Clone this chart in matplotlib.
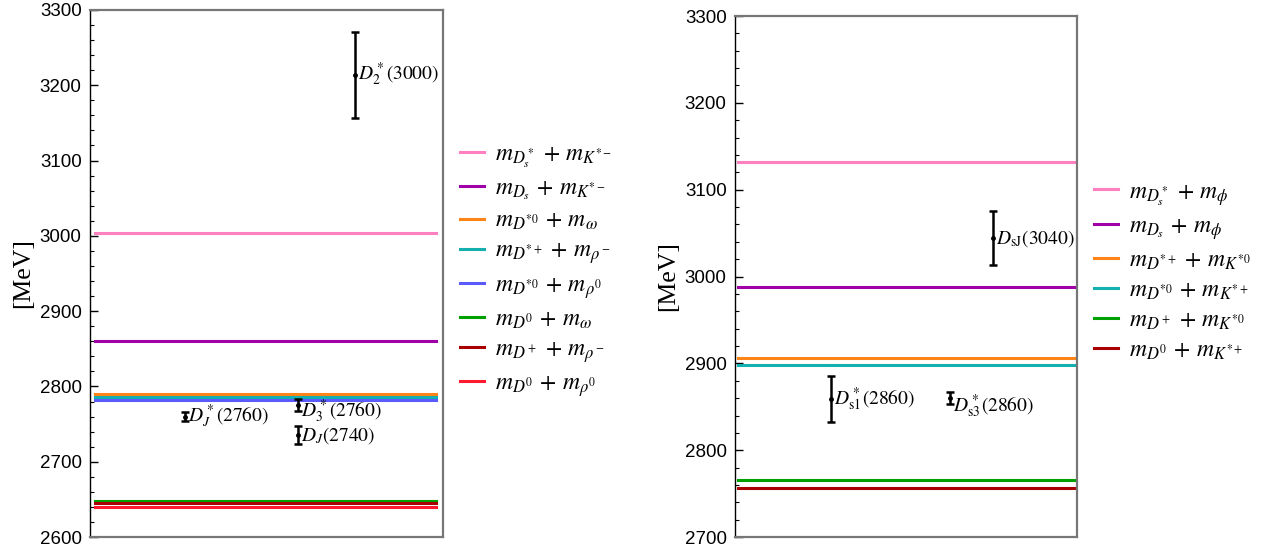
import matplotlib.pyplot as plt
from matplotlib.ticker import MultipleLocator

plt.rcParams['mathtext.fontset'] = 'stix'
plt.rcParams['font.family'] = ['Liberation Sans', 'DejaVu Sans']

# thresholds, D sector (MeV)
d_labels = [r'$m_{D_s^*}\,+\,m_{K^{*-}}$', r'$m_{D_s}\,+\,m_{K^{*-}}$',
            r'$m_{D^{*0}}\,+\,m_{\omega}$', r'$m_{D^{*+}}\,+\,m_{\rho^-}$',
            r'$m_{D^{*0}}\,+\,m_{\rho^0}$', r'$m_{D^0}\,+\,m_{\omega}$',
            r'$m_{D^+}\,+\,m_{\rho^-}$', r'$m_{D^0}\,+\,m_{\rho^0}$']
d_thresh = [3003.9, 2860.0, 2789.5, 2785.5, 2782.1, 2647.5, 2644.9, 2640.1]
d_colors = ['#ff80c0', '#a000a8', '#ff8418', '#14b0b0', '#5a5aff', '#00a000', '#a80000', '#ff1a30']

# observed D states
d_states = [r'$D_J^*(2760)$', r'$D_3^*(2760)$', r'$D_J(2740)$', r'$D_2^*(3000)$']
d_mass = [2760.1, 2775.5, 2735.0, 3214.0]
d_err = [6.0, 8.0, 12.0, 57.0]
d_xpos = [0.27, 0.59, 0.59, 0.75]

# thresholds, Ds sector (MeV)
ds_labels = [r'$m_{D_s^*}\,+\,m_{\phi}$', r'$m_{D_s}\,+\,m_{\phi}$',
             r'$m_{D^{*+}}\,+\,m_{K^{*0}}$', r'$m_{D^{*0}}\,+\,m_{K^{*+}}$',
             r'$m_{D^+}\,+\,m_{K^{*0}}$', r'$m_{D^0}\,+\,m_{K^{*+}}$']
ds_thresh = [3131.7, 2987.8, 2905.8, 2898.5, 2765.2, 2756.5]
ds_colors = ['#ff80c0', '#a000a8', '#ff8418', '#14b0b0', '#00a000', '#a80000']

# observed Ds states
ds_states = [r'$D_{\rm s1}^*(2860)$', r'$D_{\rm s3}^*(2860)$', r'$D_{\rm sJ}(3040)$']
ds_mass = [2859.0, 2860.5, 3044.0]
ds_err_lo = [27.0, 7.0, 31.0]
ds_err_hi = [27.0, 7.0, 31.0]
ds_xpos = [0.28, 0.63, 0.755]

fig = plt.figure(figsize=(12.66, 5.52), dpi=100)
ax1 = fig.add_axes([0.0711, 0.027, 0.2789, 0.955])
ax2 = fig.add_axes([0.5806, 0.027, 0.2701, 0.944])


def style(ax, lo, hi):
    ax.set_xlim(0, 1)
    ax.set_ylim(lo, hi)
    ax.set_xticks([])
    ax.yaxis.set_major_locator(MultipleLocator(100))
    ax.yaxis.set_minor_locator(MultipleLocator(20))
    ax.tick_params(axis='y', which='major', direction='in', length=6, width=1,
                   labelsize=13.5, pad=6)
    ax.tick_params(axis='y', which='minor', direction='in', length=3, width=0.8)
    for s in ['top', 'right', 'bottom']:
        ax.spines[s].set_color('#777777')
        ax.spines[s].set_linewidth(1.6)
    ax.spines['left'].set_color('black')
    ax.spines['left'].set_linewidth(1)
    ax.set_ylabel('[MeV]', family='Liberation Serif', fontsize=18.5, labelpad=4)


def legend(ax, x, y):
    ax.legend(loc='center left', bbox_to_anchor=(x, y), frameon=False,
              fontsize=17, handlelength=1.05, handletextpad=0.45,
              labelspacing=0.33, borderaxespad=0.3)


for y, c, lab in zip(d_thresh, d_colors, d_labels):
    ax1.axhline(y, xmin=0.015, xmax=0.98, color=c, lw=2.2, label=lab)
ax1.errorbar(d_xpos, d_mass, yerr=d_err, fmt='o', ms=2.5, color='black',
             lw=1.8, capsize=3, capthick=1.8)
d_dy = [0, -4.5, 0, 0]
for x, y, dy, name in zip(d_xpos, d_mass, d_dy, d_states):
    ax1.annotate(name, (x, y), xytext=(2, dy), textcoords='offset points',
                 va='center', ha='left', fontsize=14)
style(ax1, 2600, 3300)
legend(ax1, 1.0, 0.505)

for y, c, lab in zip(ds_thresh, ds_colors, ds_labels):
    ax2.axhline(y, xmin=0.01, xmax=0.995, color=c, lw=2.2, label=lab)
ax2.errorbar(ds_xpos, ds_mass, yerr=[ds_err_lo, ds_err_hi], fmt='o', ms=2.5,
             color='black', lw=1.8, capsize=3, capthick=1.8)
ds_dy = [0, -6, 0]
for x, y, dy, name in zip(ds_xpos, ds_mass, ds_dy, ds_states):
    ax2.annotate(name, (x, y), xytext=(2, dy), textcoords='offset points',
                 va='center', ha='left', fontsize=14)
style(ax2, 2700, 3300)
legend(ax2, 1.0, 0.51)

fig.savefig('out.png', dpi=100)
